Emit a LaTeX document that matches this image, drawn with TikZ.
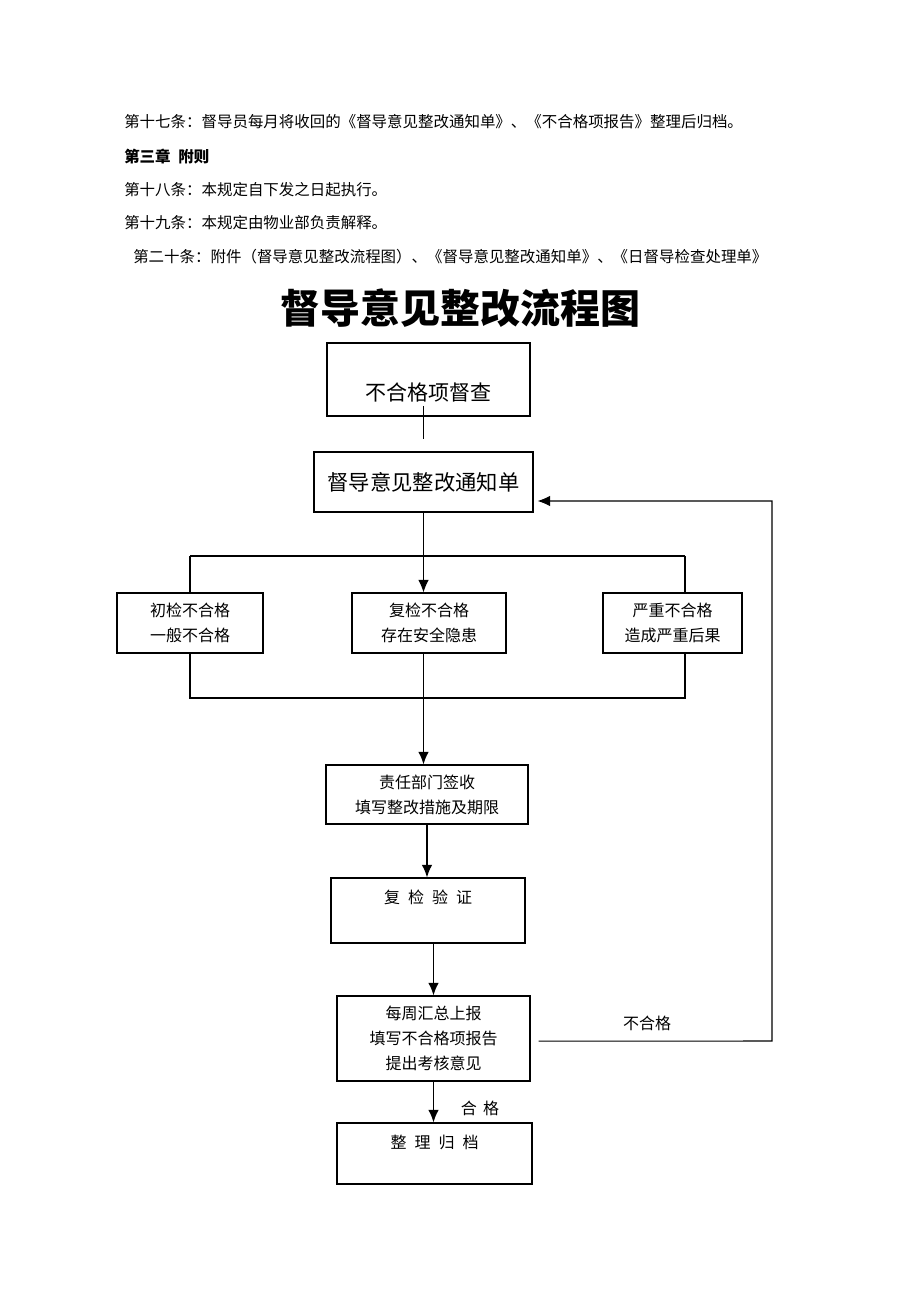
\documentclass[tikz,border=0pt]{standalone}
\usepackage{fontspec}
\setmainfont{Noto Sans CJK SC}
\usepackage{tikz}
\usetikzlibrary{arrows.meta}

\begin{document}
\begin{tikzpicture}[x=0.75pt,y=-0.75pt,
  box/.style={rectangle,draw,line width=0.8pt,inner sep=0pt,align=center},
  small/.style={font=\fontsize{12}{18.75}\selectfont},
  arr/.style={-{Latex[length=9.5pt,width=8pt]},line width=1.2pt},
  body/.style={anchor=west,inner sep=0pt,font=\fontsize{11.6}{14}\selectfont}]
\useasboundingbox (0,0) rectangle (920,1302);
% text above the chart
\node[body] (s17) at (124,122) {第十七条：督导员每月将收回的《督导意见整改通知单》、《不合格项报告》整理后归档。};
\node[body,font=\fontsize{11.6}{14}\selectfont\bfseries] (ch3) at (124,157) {第三章\hspace{0.5em}附则};
\node[body] (s18) at (124,190) {第十八条：本规定自下发之日起执行。};
\node[body] (s19) at (124,223) {第十九条：本规定由物业部负责解释。};
\node[body] (s20) at (133,257) {第二十条：附件（督导意见整改流程图）、《督导意见整改通知单》、《日督导检查处理单》};
\node[font=\fontsize{30}{32}\selectfont\bfseries] (title) at (460,308) {督导意见整改流程图};
% boxes
\node[box,minimum width=152.25pt,minimum height=54.75pt] (chk) at (428.5,379.5) {};
\node[font=\fontsize{15.75}{18}\selectfont] (chktxt) at (428.5,392) {不合格项督查};
\node[box,minimum width=164.25pt,minimum height=45pt,font=\fontsize{16}{18}\selectfont] (notice) at (423.5,482) {督导意见整改通知单};
\node[box,small,minimum width=109.5pt,minimum height=45pt] (first) at (190,623) {初检不合格\\一般不合格};
\node[box,small,minimum width=115.5pt,minimum height=45pt] (second) at (429,623) {复检不合格\\存在安全隐患};
\node[box,small,minimum width=104.25pt,minimum height=45pt] (serious) at (672.5,623) {严重不合格\\造成严重后果};
\node[box,small,minimum width=151.5pt,minimum height=44.25pt] (dept) at (427,794.5) {责任部门签收\\填写整改措施及期限};
\node[box,minimum width=145.5pt,minimum height=48.75pt] (verify) at (428,910.5) {};
\node[small] (verifytxt) at (428,897) {复\hspace{.5em}检\hspace{.5em}验\hspace{.5em}证};
\node[box,small,minimum width=144.75pt,minimum height=63.75pt] (report) at (433.5,1038.5) {每周汇总上报\\填写不合格项报告\\提出考核意见};
\node[box,minimum width=146.25pt,minimum height=45.75pt] (file) at (434.5,1153.5) {};
\node[small] (filetxt) at (434.5,1142) {整\hspace{.5em}理\hspace{.5em}归\hspace{.5em}档};
% connectors
\coordinate (tl) at (190,556);
\coordinate (tr) at (685,556);
\coordinate (bl) at (190,698);
\coordinate (br) at (685,698);
\coordinate (back) at (772,1041);
\draw[line width=0.8pt] ([yshift=8pt]chk.south -| notice.north) -- ([yshift=9pt]notice.north);
\draw[line width=0.8pt] (tl) -- (tr);
\draw[line width=0.8pt] (tl) -- (first.north);
\draw[line width=0.8pt] (tr) -- (tr |- serious.north);
\draw[line width=0.8pt] (first.south) -- (bl) -- (br) -- (br |- serious.south);
\draw[arr,line width=0.8pt] (notice.south) -- (notice.south |- second.north);
\draw[line width=0.8pt] (second.south -| notice.south) -- (bl -| notice.south);
\draw[arr] (bl -| notice.south) -- (notice.south |- dept.north);
\draw[arr] (dept.south) -- (dept.south |- verify.north);
\draw[arr] (verify.south -| report.north) -- (report.north);
\draw[arr] (report.south) -- (report.south |- file.north);
\draw[arr,line width=0.8pt] ([xshift=6pt,yshift=-2pt]report.east) -- (back) |- ([xshift=3pt,yshift=-14.25pt]notice.east);
\node[small] (failtxt) at (647,1023) {不合格};
\node[small] (passtxt) at (480,1108) {合\hspace{.4em}格};
\end{tikzpicture}
\end{document}
